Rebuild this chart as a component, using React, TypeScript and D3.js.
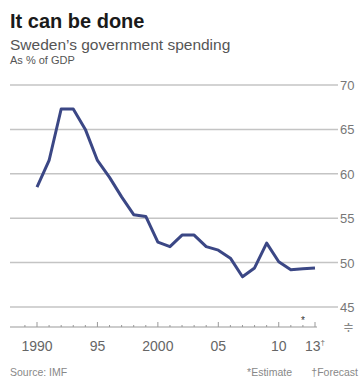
import React from "react";
import * as d3 from "d3";

const years = [1990,1991,1992,1993,1994,1995,1996,1997,1998,1999,2000,2001,2002,2003,2004,2005,2006,2007,2008,2009,2010,2011,2012,2013];
const spending = [58.5,61.5,67.3,67.3,65.0,61.5,59.6,57.4,55.4,55.2,52.3,51.8,53.1,53.1,51.8,51.4,50.5,48.4,49.4,52.2,50.1,49.2,49.3,49.4];
const yTicks = [45,50,55,60,65,70];
const xLabelYears = [1990,1995,2000,2005,2010,2013];
const xLabels = ["1990","95","2000","05","10","13"];

export default function App() {
  const W = 361, H = 378;
  const x = d3.scaleLinear().domain([1990, 2013]).range([37, 315]);
  const y = d3.scaleLinear().domain([45, 70]).range([307, 85]);
  const line = d3.line<number>().x((_, i) => x(years[i])).y(d => y(d)).curve(d3.curveLinear);
  const allYears = d3.range(1989, 2014);
  const font = "'Liberation Sans', Arial, sans-serif";
  return (
    <svg width={W} height={H} style={{ position: "absolute", left: 0, top: 0, background: "#fff" }} fontFamily={font}>
      <text x={10} y={28} fontSize={20} fontWeight="bold" fill="#1a1a1a">It can be done</text>
      <text x={10} y={50} fontSize={15.5} fill="#555">Sweden’s government spending</text>
      <text x={10} y={64} fontSize={11} fill="#555">As % of GDP</text>
      {yTicks.map(t => (
        <g key={t}>
          <line x1={10} x2={338} y1={y(t)} y2={y(t)} stroke="#c4c4c4" strokeWidth={1.5} />
          <text x={340} y={y(t) + 5} fontSize={13} fill="#777">{t}</text>
        </g>
      ))}
      <line x1={10} x2={317} y1={327} y2={327} stroke="#999" strokeWidth={1.2} />
      {allYears.map(yr => (
        <line key={yr} x1={x(yr)} x2={x(yr)} y1={327} y2={xLabelYears.includes(yr) ? 322 : 325} stroke="#999" strokeWidth={1} />
      ))}
      <text x={x(2012)} y={324} fontSize={10} textAnchor="middle" fill="#333">*</text>
      <text x={348} y={331} fontSize={13} textAnchor="middle" fill="#888">≑</text>
      {xLabelYears.map((yr, i) => (
        <text key={yr} x={x(yr)} y={351} fontSize={14} textAnchor="middle" fill="#666">
          {xLabels[i]}{yr === 2013 ? <tspan fontSize={8} dy={-6}>†</tspan> : null}
        </text>
      ))}
      <path d={line(spending) || ""} fill="none" stroke="#3b4785" strokeWidth={3} strokeLinejoin="round" />
      <text x={10} y={376} fontSize={10.5} fill="#888">Source: IMF</text>
      <text x={292} y={376} fontSize={10.5} fill="#888" textAnchor="end">*Estimate</text>
      <text x={358} y={376} fontSize={10.5} fill="#888" textAnchor="end">†Forecast</text>
    </svg>
  );
}
